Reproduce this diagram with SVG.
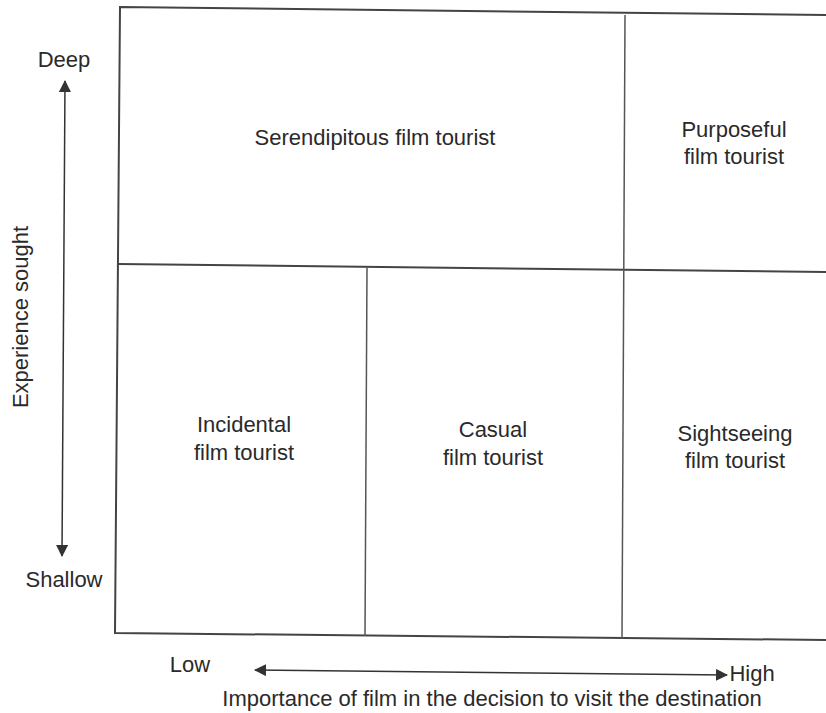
<svg xmlns="http://www.w3.org/2000/svg" width="826" height="713" viewBox="0 0 826 713">
<defs>
<marker id="ah" viewBox="0 0 12 12" refX="11" refY="6" markerWidth="12" markerHeight="12" markerUnits="userSpaceOnUse" orient="auto-start-reverse">
<path d="M0,0 L12,6 L0,12 Z" fill="#333"/>
</marker>
<style>
.t{font-family:"Liberation Sans",Arial,sans-serif;font-size:22px;fill:#2a2a2a;text-anchor:middle}
.s{font-size:21px}
.b{stroke:#444;stroke-width:2;fill:none}
.d{stroke:#555;stroke-width:1.5;fill:none}
.a{stroke:#333;stroke-width:1.5;fill:none}
</style>
</defs>
<rect width="826" height="713" fill="#fff"/>
<g id="frame">
<path class="b" d="M826,15 L120,7 L115,633 L826,640"/>
<path class="b" d="M118,264 L826,272"/>
<path class="d" d="M625,15 L622,639"/>
<path class="d" d="M367,268 L365,636"/>
</g>
<g id="serendipitous"><text class="t" x="375" y="145">Serendipitous film tourist</text></g>
<g id="purposeful"><text class="t" x="734" y="137">Purposeful</text><text class="t" x="734" y="164">film tourist</text></g>
<g id="incidental"><text class="t" x="244" y="432">Incidental</text><text class="t" x="244" y="460">film tourist</text></g>
<g id="casual"><text class="t" x="493" y="437">Casual</text><text class="t" x="493" y="465">film tourist</text></g>
<g id="sightseeing"><text class="t" x="735" y="441">Sightseeing</text><text class="t" x="735" y="468">film tourist</text></g>
<g id="axes">
<text class="t" x="64" y="67">Deep</text>
<text class="t" x="64" y="587">Shallow</text>
<text class="t" transform="translate(28,317) rotate(-90)">Experience sought</text>
<text class="t" x="190" y="672">Low</text>
<text class="t" x="752" y="681">High</text>
<text class="t" x="492" y="706">Importance of film in the decision to visit the destination</text>
</g>
<g id="connectors">
<line class="a" x1="65" y1="81" x2="62" y2="556" marker-start="url(#ah)" marker-end="url(#ah)"/>
<line class="a" x1="255" y1="670" x2="727" y2="675" marker-start="url(#ah)" marker-end="url(#ah)"/>
</g>
</svg>
